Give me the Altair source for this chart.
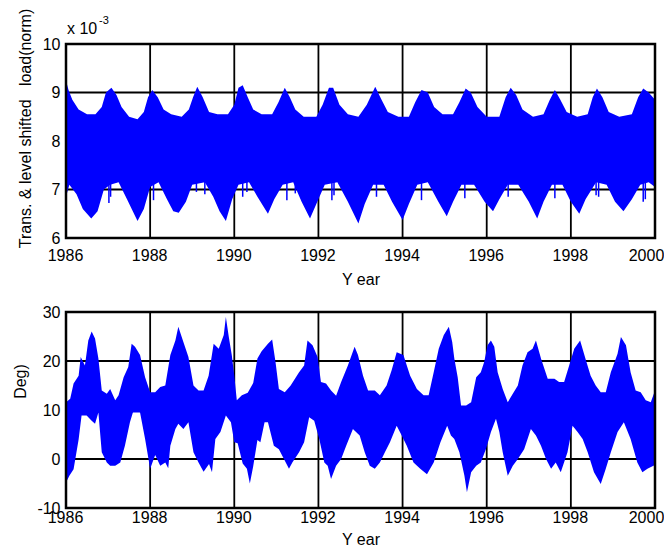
import altair as alt
import pandas as pd

FONT = "Liberation Sans"
BLUE = "#0000ff"

year_ticks = [1986, 1988, 1990, 1992, 1994, 1996, 1998, 2000]
load_ticks = [6, 7, 8, 9, 10]
temp_ticks = [-10, 0, 10, 20, 30]

# ---- top panel: normalised load, upper / lower envelope
load_upper_year = [1986.00, 1986.06, 1986.15, 1986.30, 1986.50, 1986.70, 1986.85, 1986.95, 1987.08, 1987.20,
                   1987.32, 1987.50, 1987.70, 1987.85, 1987.95, 1988.05, 1988.18, 1988.32, 1988.50, 1988.75,
                   1988.92, 1989.02, 1989.12, 1989.25, 1989.40, 1989.60, 1989.85, 1990.00, 1990.10, 1990.20,
                   1990.32, 1990.45, 1990.65, 1990.90, 1991.05, 1991.20, 1991.32, 1991.45, 1991.65, 1991.95,
                   1992.10, 1992.25, 1992.35, 1992.50, 1992.70, 1992.95, 1993.15, 1993.35, 1993.50, 1993.65,
                   1993.90, 1994.15, 1994.30, 1994.45, 1994.60, 1994.75, 1994.95, 1995.20, 1995.35, 1995.50,
                   1995.62, 1995.78, 1996.00, 1996.30, 1996.45, 1996.57, 1996.70, 1996.85, 1997.10, 1997.35,
                   1997.50, 1997.62, 1997.75, 1997.90, 1998.15, 1998.40, 1998.52, 1998.62, 1998.75, 1998.90,
                   1999.15, 1999.45, 1999.60, 1999.72, 1999.85, 2000.00]
load_upper = [9.25, 9.05, 8.85, 8.65, 8.55, 8.55, 8.70, 9.00, 9.10, 8.95,
              8.70, 8.50, 8.45, 8.60, 8.90, 9.05, 8.90, 8.65, 8.55, 8.50,
              8.65, 8.90, 9.12, 8.90, 8.60, 8.55, 8.55, 8.75, 9.10, 9.15,
              8.90, 8.65, 8.55, 8.55, 8.80, 9.10, 8.90, 8.65, 8.50, 8.50,
              8.75, 9.10, 9.10, 8.75, 8.55, 8.50, 8.75, 9.12, 8.85, 8.60,
              8.50, 8.50, 8.80, 9.05, 9.00, 8.70, 8.55, 8.55, 8.80, 9.08,
              9.00, 8.70, 8.50, 8.50, 8.90, 9.10, 8.95, 8.65, 8.50, 8.55,
              8.85, 9.05, 8.85, 8.60, 8.50, 8.55, 8.90, 9.08, 8.90, 8.60,
              8.50, 8.55, 8.90, 9.08, 9.00, 8.85]

load_lower_year = [1986.00, 1986.08, 1986.25, 1986.40, 1986.60, 1986.75, 1986.90, 1987.05, 1987.25, 1987.45,
                   1987.70, 1987.85, 1988.00, 1988.20, 1988.40, 1988.55, 1988.68, 1988.85, 1989.00, 1989.30,
                   1989.50, 1989.65, 1989.80, 1989.95, 1990.10, 1990.35, 1990.55, 1990.80, 1990.95, 1991.15,
                   1991.40, 1991.60, 1991.80, 1991.95, 1992.15, 1992.45, 1992.70, 1992.95, 1993.10, 1993.30,
                   1993.55, 1993.75, 1994.00, 1994.15, 1994.35, 1994.60, 1994.85, 1995.05, 1995.20, 1995.40,
                   1995.70, 1995.95, 1996.15, 1996.30, 1996.50, 1996.75, 1997.00, 1997.20, 1997.35, 1997.55,
                   1997.80, 1998.00, 1998.20, 1998.35, 1998.60, 1998.85, 1999.05, 1999.25, 1999.45, 1999.65,
                   1999.85, 2000.00]
load_lower = [6.85, 7.10, 6.90, 6.60, 6.40, 6.55, 7.00, 7.10, 7.15, 6.80,
              6.35, 6.60, 7.05, 7.15, 6.80, 6.55, 6.52, 6.75, 7.10, 7.15,
              6.85, 6.55, 6.35, 6.80, 7.10, 7.15, 6.85, 6.50, 6.80, 7.10,
              7.15, 6.75, 6.40, 6.70, 7.10, 7.15, 6.75, 6.30, 6.70, 7.10,
              7.10, 6.75, 6.37, 6.70, 7.10, 7.15, 6.75, 6.45, 6.75, 7.10,
              7.10, 6.75, 6.55, 6.80, 7.10, 7.10, 6.75, 6.40, 6.75, 7.10,
              7.10, 6.75, 6.50, 6.80, 7.15, 7.10, 6.75, 6.55, 6.80, 7.10,
              7.15, 7.05]

load_spike_year = [1987.02, 1987.06, 1988.08, 1989.10, 1989.30, 1990.20, 1990.30, 1991.25, 1991.45, 1992.32,
                   1992.37, 1993.38, 1994.45, 1995.48, 1996.51, 1997.62, 1998.60, 1998.66, 1999.72, 1999.77]
load_spike_low = [6.72, 6.85, 6.78, 6.95, 6.90, 6.85, 6.95, 6.78, 6.92, 6.78,
                  6.88, 6.85, 6.78, 6.82, 6.85, 6.82, 6.88, 6.85, 6.75, 6.80]

# ---- bottom panel: temperature (Deg), upper / lower envelope
temp_upper_year = [1986.00, 1986.10, 1986.18, 1986.30, 1986.35, 1986.45, 1986.53, 1986.61, 1986.69, 1986.77,
                   1986.85, 1986.97, 1987.05, 1987.17, 1987.25, 1987.37, 1987.48, 1987.56, 1987.64, 1987.76,
                   1987.88, 1988.00, 1988.12, 1988.24, 1988.36, 1988.48, 1988.60, 1988.67, 1988.79, 1988.91,
                   1989.03, 1989.15, 1989.27, 1989.39, 1989.51, 1989.63, 1989.75, 1989.80, 1989.87, 1989.94,
                   1990.00, 1990.06, 1990.18, 1990.32, 1990.45, 1990.55, 1990.65, 1990.80, 1990.90, 1990.98,
                   1991.06, 1991.20, 1991.34, 1991.54, 1991.66, 1991.74, 1991.86, 1991.98, 1992.06, 1992.18,
                   1992.30, 1992.42, 1992.54, 1992.70, 1992.86, 1992.94, 1993.06, 1993.18, 1993.34, 1993.46,
                   1993.62, 1993.74, 1993.86, 1994.02, 1994.18, 1994.34, 1994.50, 1994.62, 1994.74, 1994.86,
                   1994.98, 1995.10, 1995.18, 1995.23, 1995.31, 1995.39, 1995.51, 1995.63, 1995.75, 1995.86,
                   1995.94, 1996.02, 1996.10, 1996.18, 1996.26, 1996.38, 1996.50, 1996.62, 1996.74, 1996.85,
                   1996.97, 1997.09, 1997.17, 1997.29, 1997.45, 1997.61, 1997.72, 1997.84, 1997.96, 1998.08,
                   1998.22, 1998.36, 1998.47, 1998.59, 1998.71, 1998.83, 1998.95, 1999.11, 1999.19, 1999.31,
                   1999.42, 1999.54, 1999.66, 1999.78, 1999.90, 2000.00]
temp_upper = [11.6, 12.3, 15.4, 17.0, 20.8, 19.1, 24.2, 26.0, 24.6, 20.5,
              14.0, 13.3, 14.3, 12.0, 13.0, 16.7, 18.8, 23.5, 22.9, 21.2,
              16.7, 13.6, 13.6, 14.7, 15.0, 21.2, 24.2, 27.0, 23.9, 20.8,
              15.0, 14.0, 14.0, 17.0, 23.5, 22.5, 25.3, 29.0, 24.9, 21.2,
              17.0, 12.0, 13.0, 13.5, 15.5, 20.5, 22.0, 23.5, 24.4, 19.8,
              14.3, 13.6, 15.0, 17.7, 19.1, 24.2, 23.2, 20.8, 15.7, 15.4,
              14.0, 12.9, 15.7, 19.1, 22.9, 21.2, 17.0, 14.0, 14.0, 13.0,
              15.0, 18.1, 21.8, 21.2, 17.0, 14.3, 13.0, 13.0, 17.7, 22.5,
              25.3, 27.0, 23.9, 20.5, 16.7, 10.9, 10.9, 11.6, 16.7, 17.7,
              19.8, 23.2, 24.2, 22.9, 17.7, 14.3, 11.6, 13.3, 15.0, 19.1,
              21.8, 22.5, 24.2, 20.5, 16.4, 16.4, 15.7, 15.7, 19.1, 22.5,
              24.2, 20.1, 17.0, 15.0, 13.6, 13.6, 17.7, 21.5, 24.9, 23.2,
              17.7, 14.0, 13.6, 12.0, 11.6, 14.0]

temp_lower_year = [1986.00, 1986.08, 1986.18, 1986.30, 1986.37, 1986.49, 1986.61, 1986.69, 1986.77, 1986.85,
                   1986.97, 1987.05, 1987.17, 1987.29, 1987.40, 1987.52, 1987.64, 1987.76, 1987.88, 1988.00,
                   1988.12, 1988.24, 1988.36, 1988.43, 1988.48, 1988.60, 1988.67, 1988.79, 1988.91, 1989.03,
                   1989.15, 1989.27, 1989.40, 1989.47, 1989.55, 1989.67, 1989.80, 1989.92, 1990.00, 1990.08,
                   1990.20, 1990.30, 1990.37, 1990.45, 1990.55, 1990.62, 1990.72, 1990.80, 1990.94, 1991.06,
                   1991.18, 1991.30, 1991.38, 1991.54, 1991.66, 1991.78, 1991.90, 1992.02, 1992.14, 1992.22,
                   1992.30, 1992.42, 1992.54, 1992.66, 1992.82, 1992.98, 1993.10, 1993.22, 1993.34, 1993.46,
                   1993.58, 1993.70, 1993.86, 1993.98, 1994.10, 1994.26, 1994.42, 1994.58, 1994.74, 1994.90,
                   1995.06, 1995.15, 1995.23, 1995.35, 1995.47, 1995.53, 1995.63, 1995.75, 1995.86, 1995.98,
                   1996.10, 1996.22, 1996.30, 1996.38, 1996.50, 1996.62, 1996.74, 1996.89, 1997.05, 1997.17,
                   1997.29, 1997.41, 1997.53, 1997.64, 1997.76, 1997.92, 1998.04, 1998.16, 1998.28, 1998.40,
                   1998.55, 1998.71, 1998.83, 1998.95, 1999.11, 1999.26, 1999.42, 1999.58, 1999.70, 1999.82,
                   2000.00]
temp_lower = [-4.8, -3.4, -2.1, 4.0, 8.9, 8.9, 7.8, 7.2, 9.5, 1.4,
              -0.7, -1.4, -1.4, -0.7, 2.7, 7.5, 10.9, 9.5, 4.1, -2.0,
              0.8, -1.4, -0.7, -1.9, 2.7, 6.1, 7.2, 6.1, 7.5, 1.4,
              -0.7, -2.6, -1.0, -2.7, 4.1, 5.5, 8.9, 7.5, 3.4, 3.2,
              -0.9, -2.0, -5.0, -1.5, 3.9, 3.4, 7.5, 7.5, 2.7, 2.0,
              0.0, -2.0, -0.7, 1.4, 3.4, 8.5, 7.8, 4.1, -0.7, -1.4,
              -4.1, -1.4, 0.0, 2.7, 6.1, 4.8, 1.4, -1.4, -2.0, -0.7,
              1.4, 3.4, 6.8, 4.8, 2.7, -0.7, -2.0, -3.1, -0.7, 3.4,
              6.8, 4.8, 4.1, 1.4, -3.4, -6.8, -2.7, -1.4, -0.7, 2.0,
              5.5, 8.2, 5.5, 1.4, -3.4, -1.4, 0.0, 2.0, 6.1, 4.8,
              2.7, 0.0, -2.0, -0.7, -2.7, 1.4, 6.8, 5.5, 4.1, 1.4,
              -2.7, -5.1, -2.0, 1.4, 5.5, 7.5, 4.1, -0.7, -2.7, -2.0,
              -1.2]

load_up_df = pd.DataFrame({"year": load_upper_year, "v": load_upper})
load_lo_df = pd.DataFrame({"year": load_lower_year, "v": load_lower})
load_sp_df = pd.DataFrame({"year": load_spike_year, "v": load_spike_low})
temp_up_df = pd.DataFrame({"year": temp_upper_year, "v": temp_upper})
temp_lo_df = pd.DataFrame({"year": temp_lower_year, "v": temp_lower})
year_grid_df = pd.DataFrame({"year": year_ticks})
load_grid_df = pd.DataFrame({"v": load_ticks})
temp_grid_df = pd.DataFrame({"v": temp_ticks})
one_row = pd.DataFrame({"k": [0]})

W = 589            # plot width
H_TOP = 194        # top panel height
GAP = 74           # gap between panels
H_BOT = 196        # bottom panel height
H = H_TOP + GAP + H_BOT

GRID_W = 1.8
FRAME_W = 2.5


def x_enc(label_pad, offset, title_y):
    return alt.X(
        "year:Q",
        scale=alt.Scale(domain=[1986, 2000], nice=False, zero=False),
        axis=alt.Axis(values=year_ticks, labelExpr="'' + datum.value", title="Y ear",
                      orient="bottom", offset=offset, labelPadding=label_pad,
                      labelOffset=alt.expr("datum.value == 2000 ? -9 : -1"),
                      titleY=title_y, titleBaseline="top",
                      grid=False, ticks=False, domain=False, labelFlush=False,
                      labelOverlap=False),
    )


def y_enc(domain, rng, ticks, title, tx, ty):
    return alt.Y(
        "v:Q",
        scale=alt.Scale(domain=domain, range=rng, nice=False, zero=False),
        axis=alt.Axis(values=ticks, labelExpr="'' + datum.value", title=title, orient="left",
                      titleX=tx, titleY=ty, titleAngle=270, titleAlign="center",
                      titleBaseline="middle", labelPadding=6, grid=False, ticks=False,
                      domain=False, labelOverlap=False),
    )


# ---------------- top panel ----------------
tx_top = x_enc(9, -(GAP + H_BOT), 33)
ty_top = y_enc([6, 10], [H_TOP, 0], load_ticks,
               "Trans. & level shifted\u00a0\u00a0\u00a0load(norm)", -41, 84)

top_vgrid = alt.Chart(year_grid_df).mark_rule(color="black", strokeWidth=GRID_W).encode(
    x=tx_top, y=alt.datum(6), y2=alt.datum(10))
top_hgrid = alt.Chart(load_grid_df).mark_rule(color="black", strokeWidth=GRID_W).encode(
    y=ty_top, x=alt.datum(1986), x2=alt.datum(2000))
top_up = alt.Chart(load_up_df).mark_area(color=BLUE, opacity=1).encode(
    x=tx_top, y=ty_top, y2=alt.datum(7.7))
top_lo = alt.Chart(load_lo_df).mark_area(color=BLUE, opacity=1).encode(
    x=tx_top, y=ty_top, y2=alt.datum(7.9))
top_sp = alt.Chart(load_sp_df).mark_rule(color=BLUE, strokeWidth=1.5).encode(
    x=tx_top, y=ty_top, y2=alt.datum(7.3))
top_frame = alt.Chart(one_row).mark_rect(filled=False, color="black", strokeWidth=FRAME_W).encode(
    x=alt.datum(1986), x2=alt.datum(2000), y=alt.datum(6), y2=alt.datum(10))
exp_base = alt.Chart(pd.DataFrame({"t": ["x 10"]})).mark_text(
    align="left", baseline="alphabetic", font=FONT, fontSize=16, color="black").encode(
    x=alt.value(1), y=alt.value(-10.5), text="t:N")
exp_sup = alt.Chart(pd.DataFrame({"t": ["-3"]})).mark_text(
    align="left", baseline="alphabetic", font=FONT, fontSize=11, color="black").encode(
    x=alt.value(33), y=alt.value(-20), text="t:N")

top = alt.layer(top_vgrid, top_hgrid, top_up, top_lo, top_sp, top_frame, exp_base, exp_sup)

# ---------------- bottom panel ----------------
tx_bot = x_enc(1, 0, 23)
ty_bot = y_enc([-10, 30], [H, H_TOP + GAP], temp_ticks, "Deg)", -46, 337)

bot_vgrid = alt.Chart(year_grid_df).mark_rule(color="black", strokeWidth=GRID_W).encode(
    x=tx_bot, y=alt.datum(-10), y2=alt.datum(30))
bot_hgrid = alt.Chart(temp_grid_df).mark_rule(color="black", strokeWidth=GRID_W).encode(
    y=ty_bot, x=alt.datum(1986), x2=alt.datum(2000))
bot_up = alt.Chart(temp_up_df).mark_area(color=BLUE, opacity=1).encode(
    x=tx_bot, y=ty_bot, y2=alt.datum(9.5))
bot_lo = alt.Chart(temp_lo_df).mark_area(color=BLUE, opacity=1).encode(
    x=tx_bot, y=ty_bot, y2=alt.datum(10.5))
bot_frame = alt.Chart(one_row).mark_rect(filled=False, color="black", strokeWidth=FRAME_W).encode(
    x=alt.datum(1986), x2=alt.datum(2000), y=alt.datum(-10), y2=alt.datum(30))

bottom = alt.layer(bot_vgrid, bot_hgrid, bot_up, bot_lo, bot_frame)

# the page body is 656 px wide, so the svg is kept at 58 + 589 + 9 = 656 px
chart = alt.layer(top, bottom).resolve_scale(x="independent", y="independent").properties(
    width=W, height=H,
    autosize=alt.AutoSizeParams(type="none"),
    padding={"left": 58, "top": 36, "right": 9, "bottom": 40},
).configure(
    font=FONT, background="white"
).configure_view(
    strokeOpacity=0
).configure_axis(
    labelFont=FONT, labelFontSize=16, labelColor="black",
    titleFont=FONT, titleFontSize=16, titleFontWeight="normal", titleColor="black",
)

chart.save("out.html", embed_options={"renderer": "svg", "actions": False})
